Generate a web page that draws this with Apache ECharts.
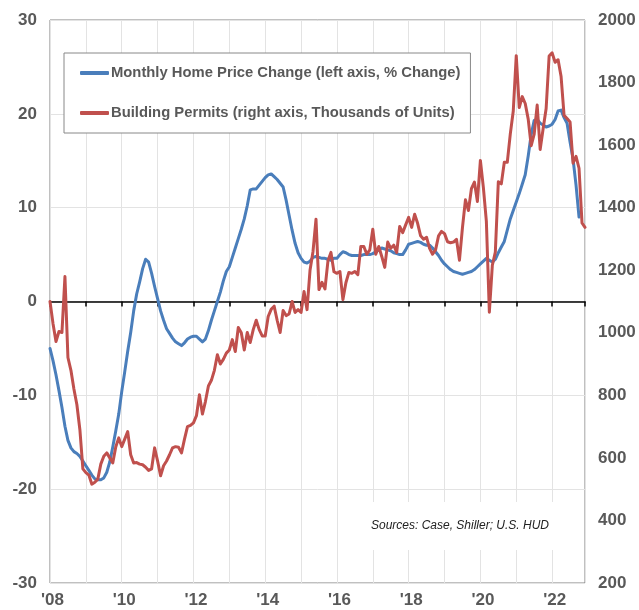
<!DOCTYPE html>
<html>
<head>
<meta charset="utf-8">
<script src="https://cdn.jsdelivr.net/npm/echarts@6/dist/echarts.min.js"></script>
<style>
html,body{margin:0;padding:0;background:#fff;}
#chart{width:639px;height:610px;}
</style>
</head>
<body>
<div id="chart"></div>
<script>
// Monthly data, Jan 2008 = month index 0
const startYear = 2008;
const seriesNames = ["Monthly Home Price Change (left axis, % Change)", "Building Permits (right axis, Thousands of Units)"];
const xTickLabels = ["'08","'10","'12","'14","'16","'18","'20","'22"];
const leftTicks = [-30, -20, -10, 0, 10, 20, 30];
const rightTicks = [200, 400, 600, 800, 1000, 1200, 1400, 1600, 1800, 2000];
const sourceNote = "Sources: Case, Shiller; U.S. HUD";

// Case-Shiller YoY % change (left axis)
const homePriceChange = [
  -5.0, -6.3, -7.8, -9.5, -11.3, -13.3, -14.8, -15.6, -16.0, -16.2, -16.5, -17.0,
  -17.5, -18.0, -18.5, -18.9, -19.0, -19.0, -18.8, -18.2, -17.1, -15.5, -13.8, -12.0,
  -9.6, -7.5, -5.3, -3.3, -1.0, 0.8, 2.1, 3.5, 4.5, 4.2, 3.0, 1.6,
  0.3, -1.0, -2.0, -2.9, -3.4, -3.9, -4.3, -4.5, -4.7, -4.4, -4.0, -3.8,
  -3.7, -3.7, -4.0, -4.3, -4.0, -3.1, -2.0, -1.0, 0.0, 1.0, 2.2, 3.2,
  3.7, 4.7, 5.7, 6.7, 7.7, 8.8, 10.2, 11.9, 12.0, 12.0, 12.4, 12.8,
  13.2, 13.5, 13.6, 13.3, 13.0, 12.6, 12.2, 10.8, 9.2, 7.6, 6.2, 5.2,
  4.6, 4.2, 4.1, 4.3, 4.7, 4.8, 4.7, 4.6, 4.6, 4.5, 4.4, 4.6,
  4.6, 5.0, 5.3, 5.2, 5.0, 4.9, 4.9, 4.9, 4.9, 5.0, 5.0, 5.0,
  5.1, 5.3, 5.5, 5.7, 5.6, 5.5, 5.4, 5.2, 5.1, 5.0, 5.0, 5.5,
  6.1, 6.2, 6.3, 6.4, 6.3, 6.1, 6.0, 6.0, 5.7, 5.3, 4.9, 4.4,
  4.0, 3.7, 3.4, 3.2, 3.1, 3.0, 2.9, 3.0, 3.1, 3.2, 3.4, 3.7,
  4.0, 4.3, 4.6, 4.4, 4.2, 4.5, 5.2, 5.8, 6.4, 7.6, 8.8, 9.7,
  10.6, 11.5, 12.5, 13.5, 15.5, 17.8, 19.3, 19.4, 19.0, 18.8, 18.6, 18.7,
  18.9, 19.4, 20.3, 20.4, 19.6, 19.0, 17.0, 15.2, 12.4, 9.0
];

// Building permits, thousands of units (right axis)
const buildingPermits = [
  1100, 1030, 972, 1004, 1001, 1180, 921, 880, 820, 770, 690, 565,
  553, 545, 516, 522, 532, 580, 605, 616, 600, 584, 635, 664,
  636, 660, 684, 610, 584, 585, 580, 578, 570, 560, 565, 632,
  590, 543, 575, 590, 610, 632, 636, 634, 616, 660, 700, 704,
  712, 735, 802, 740, 780, 830, 848, 880, 930, 900, 915, 935,
  945, 978, 940, 1017, 1000, 945, 1001, 969, 1010, 1040, 1010, 990,
  990, 1052, 1075, 1085, 1040, 1001, 1071, 1055, 1060, 1100, 1065, 1074,
  1065, 1132, 1074, 1200, 1260, 1363, 1138, 1161, 1140, 1230, 1257, 1195,
  1190, 1196, 1106, 1160, 1193, 1190, 1196, 1186, 1276, 1276, 1251, 1265,
  1331, 1251, 1276, 1244, 1209, 1290, 1270, 1280, 1257, 1340, 1320, 1345,
  1369, 1337, 1379, 1350, 1310, 1299, 1305, 1270, 1251, 1265, 1310, 1324,
  1317, 1291, 1288, 1290, 1299, 1232, 1336, 1425, 1391, 1461, 1482, 1420,
  1551, 1464, 1356, 1066, 1216, 1258, 1483, 1476, 1545, 1545, 1635, 1709,
  1886, 1720, 1755, 1733, 1683, 1598, 1635, 1728, 1586, 1653, 1717, 1885,
  1895, 1865, 1873, 1819, 1695, 1685, 1674, 1542, 1564, 1526, 1351, 1337
];

const toPoints = arr => arr.map((v, i) => [i, v]);
const lastMonth = buildingPermits.length - 1;

const chart = echarts.init(document.getElementById('chart'), null, {renderer: 'canvas'});
const FONT = 'Liberation Sans, Arial, sans-serif';
const labelFont = {color: '#595959', fontWeight: 'bold', fontSize: 17, fontFamily: FONT};

chart.setOption({
  animation: false,
  backgroundColor: '#ffffff',
  grid: {left: 50, right: 54, top: 20, bottom: 27, show: true, borderColor: '#808080', borderWidth: 1, backgroundColor: '#ffffff'},
  legend: {
    orient: 'vertical', left: 64, top: 53,
    padding: [12, 10, 12, 16],
    itemGap: 24, itemWidth: 29, itemHeight: 4, icon: 'roundRect',
    borderColor: '#888888', borderWidth: 1, backgroundColor: '#ffffff',
    textStyle: {color: '#595959', fontWeight: 'bold', fontSize: 14.8, lineHeight: 16, fontFamily: FONT, padding: [0, 0, 0, -3]},
    data: seriesNames
  },
  xAxis: [
    {
      type: 'value', min: 0, max: lastMonth, interval: 12,
      axisLine: {show: false}, axisTick: {show: false},
      splitLine: {show: true, lineStyle: {color: '#e3e3e3', width: 1}},
      axisLabel: Object.assign({}, labelFont, {
        margin: 9, showMaxLabel: false, padding: [0, 0, 0, 5],
        formatter: v => (v % 24 === 0 ? xTickLabels[v / 24] : '')
      })
    },
    {
      type: 'value', min: 0, max: lastMonth, interval: 12, position: 'bottom',
      axisLine: {show: true, onZero: true, onZeroAxisIndex: 0, lineStyle: {color: '#000000', width: 1.5}},
      axisTick: {show: true, inside: false, length: 5, lineStyle: {color: '#000000', width: 1.5}},
      axisLabel: {show: false},
      splitLine: {show: false}
    }
  ],
  yAxis: [
    {
      type: 'value', min: leftTicks[0], max: leftTicks[leftTicks.length - 1], interval: 10,
      axisLine: {show: false}, axisTick: {show: false},
      splitLine: {show: true, lineStyle: {color: '#e3e3e3', width: 1}},
      axisLabel: Object.assign({}, labelFont, {margin: 13, formatter: v => String(v)})
    },
    {
      type: 'value', min: rightTicks[0], max: rightTicks[rightTicks.length - 1], interval: 200, position: 'right',
      axisLine: {show: false}, axisTick: {show: false}, splitLine: {show: false},
      axisLabel: Object.assign({}, labelFont, {margin: 13, formatter: v => String(v)})
    }
  ],
  graphic: [
    {type: 'rect', left: 345, top: 502, shape: {width: 239, height: 48}, style: {fill: '#ffffff'}, z: 10},
    {type: 'text', x: 460, y: 526, z: 11, style: {text: sourceNote, fill: '#222222', font: 'italic 12px Liberation Sans, Arial, sans-serif', textAlign: 'center', textVerticalAlign: 'middle'}}
  ],
  series: [
    {
      name: seriesNames[0], type: 'line', xAxisIndex: 0, yAxisIndex: 0,
      data: toPoints(homePriceChange), showSymbol: false, smooth: false,
      lineStyle: {color: '#4a7ebb', width: 3, cap: 'round', join: 'round'},
      itemStyle: {color: '#4a7ebb'}, z: 3
    },
    {
      name: seriesNames[1], type: 'line', xAxisIndex: 0, yAxisIndex: 1,
      data: toPoints(buildingPermits), showSymbol: false, smooth: false,
      lineStyle: {color: '#c0504d', width: 3, cap: 'round', join: 'round'},
      itemStyle: {color: '#c0504d'}, z: 4
    }
  ]
});
</script>
</body>
</html>
